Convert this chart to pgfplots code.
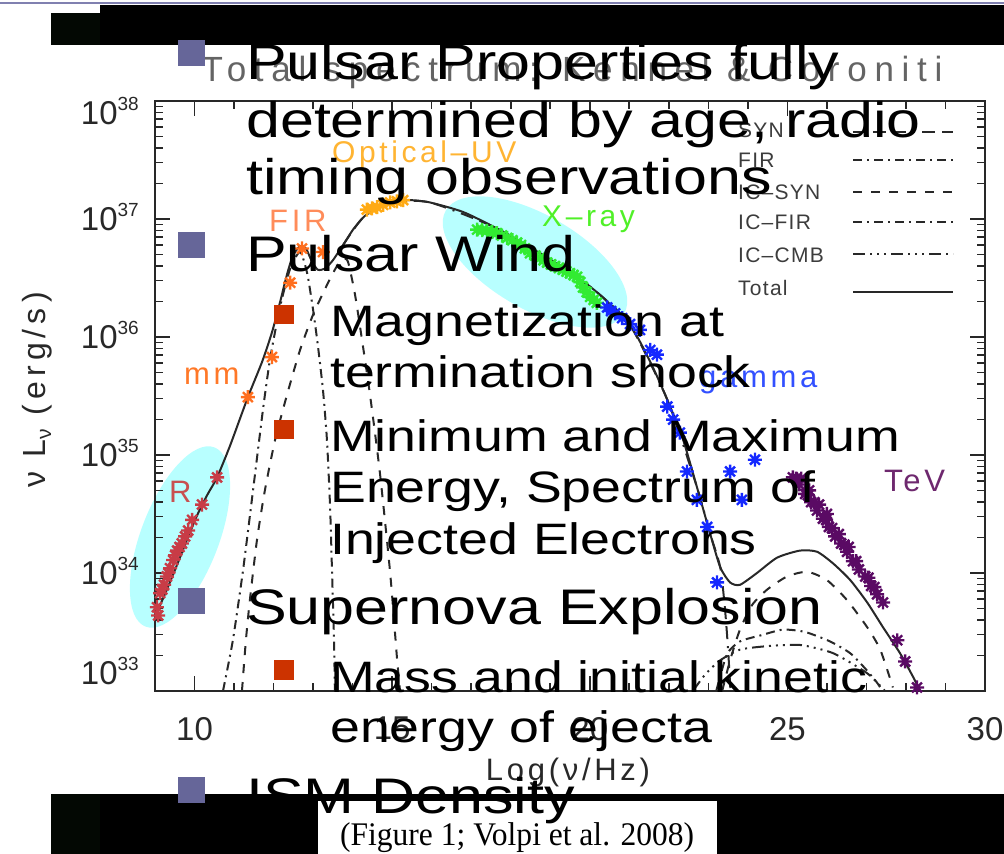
\documentclass[border=0pt]{standalone}
\usepackage{pgfplots}
\pgfplotsset{compat=1.18}
\usepackage{graphicx}
\usepackage{fontspec}
\setmainfont{Liberation Sans}
\newfontfamily\capfont{Liberation Serif}
\newfontfamily\idl[LetterSpace=12]{Liberation Sans}
\newfontfamily\idllab[LetterSpace=16]{Liberation Sans}
\newfontfamily\idlleg[LetterSpace=6]{Liberation Sans}
\newfontfamily\idlwide[LetterSpace=22]{Liberation Sans}
\definecolor{slate}{RGB}{102,102,153}
\definecolor{subbul}{RGB}{204,51,0}
\definecolor{topline}{RGB}{128,128,176}
\definecolor{darkbar}{RGB}{3,8,3}
\definecolor{ellcyan}{RGB}{184,255,255}
\definecolor{cR}{RGB}{200,60,70}
\definecolor{cmm}{RGB}{255,110,30}
\definecolor{copt}{RGB}{255,170,20}
\definecolor{cx}{RGB}{50,235,50}
\definecolor{cg}{RGB}{20,40,255}
\definecolor{ctev}{RGB}{90,10,100}
\definecolor{axgray}{RGB}{40,40,40}
\definecolor{legtxt}{RGB}{60,60,60}
\newcommand\ytl[1]{10\raisebox{14pt}{\fontsize{19}{19}\selectfont #1}}
\newcommand\mainline[2]{\node[anchor=base west,inner sep=0pt] at (246,#1) {\scalebox{1.22}[1]{\fontsize{50}{60}\selectfont #2}};}
\newcommand\subline[2]{\node[anchor=base west,inner sep=0pt] at (330,#1) {\scalebox{1.22}[1]{\fontsize{44}{52}\selectfont #2}};}
\pgfdeclareplotmark{ast8}{%
  \pgfpathmoveto{\pgfqpoint{-\pgfplotmarksize}{0pt}}\pgfpathlineto{\pgfqpoint{\pgfplotmarksize}{0pt}}%
  \pgfpathmoveto{\pgfqpoint{0pt}{-\pgfplotmarksize}}\pgfpathlineto{\pgfqpoint{0pt}{\pgfplotmarksize}}%
  \pgfpathmoveto{\pgfqpoint{-0.707\pgfplotmarksize}{-0.707\pgfplotmarksize}}\pgfpathlineto{\pgfqpoint{0.707\pgfplotmarksize}{0.707\pgfplotmarksize}}%
  \pgfpathmoveto{\pgfqpoint{-0.707\pgfplotmarksize}{0.707\pgfplotmarksize}}\pgfpathlineto{\pgfqpoint{0.707\pgfplotmarksize}{-0.707\pgfplotmarksize}}%
  \pgfusepathqstroke}
\pgfplotsset{pts/.style={only marks, mark=ast8, mark size=7pt, line width=2.4pt}}
\begin{document}
\begin{tikzpicture}[x=1pt,y=1pt]
\useasboundingbox (0,0) rectangle (1004,854);
% highlight ellipses
\fill[ellcyan, rotate around={69:(180,317)}] (180,317) ellipse [x radius=96, y radius=39];
\fill[ellcyan, rotate around={-30:(535,592)}] (535,592) ellipse [x radius=103, y radius=47];
\begin{axis}[
  at={(155pt,163pt)}, anchor=south west, scale only axis,
  width=830pt, height=590pt,
  xmin=9, xmax=30, ymin=33, ymax=38,
  xtick={10,15,20,25,30},
  xticklabels={10,15,20,25,30},
  minor x tick num=4,
  ytick={33,34,35,36,37,38},
  yticklabels={\raisebox{18pt}{\ytl{33}},\ytl{34},\ytl{35},\ytl{36},\ytl{37},\raisebox{-12pt}{\ytl{38}}},
  minor ytick={33.30103,33.47712,33.60206,33.69897,33.77815,33.84510,33.90309,33.95424,
               34.30103,34.47712,34.60206,34.69897,34.77815,34.84510,34.90309,34.95424,
               35.30103,35.47712,35.60206,35.69897,35.77815,35.84510,35.90309,35.95424,
               36.30103,36.47712,36.60206,36.69897,36.77815,36.84510,36.90309,36.95424,
               37.30103,37.47712,37.60206,37.69897,37.77815,37.84510,37.90309,37.95424},
  major tick length=15pt, minor tick length=8pt,
  tick style={axgray, line width=1.6pt},
  axis line style={axgray, line width=2pt},
  ticklabel style={font=\fontsize{33}{33}\selectfont, text=axgray, inner sep=0pt},
  xticklabel style={anchor=north, yshift=-26pt},
  yticklabel style={anchor=base east, xshift=-16pt, yshift=-12pt},
]
% --- model components ---
\addplot[axgray, line width=2pt, smooth, tension=0.4] coordinates {
 (9.00,33.63)(9.25,33.82)(9.51,34.03)(9.76,34.24)(10.04,34.47)(10.32,34.66)(10.57,34.81)
 (10.90,35.08)(11.35,35.49)(11.71,35.79)(11.96,36.04)(12.16,36.29)(12.34,36.53)(12.49,36.69)
 (12.67,36.77)(12.82,36.75)(12.97,36.64)(13.12,36.57)(13.30,36.58)(13.50,36.65)(13.76,36.78)
 (14.01,36.91)(14.26,37.01)(14.52,37.08)(14.95,37.14)(15.45,37.16)(15.96,37.14)(16.79,37.06)
 (17.65,36.92)(18.49,36.76)(19.32,36.59)(20.18,36.38)(21.02,36.10)(21.53,35.79)(21.96,35.47)
 (22.36,35.13)(22.71,34.73)(23.04,34.34)(23.30,34.05)(23.55,33.92)(23.80,33.90)(24.23,34.00)
 (24.74,34.13)(25.32,34.19)(25.75,34.18)(26.16,34.08)(26.59,33.94)(27.02,33.75)(27.42,33.54)
 (27.85,33.32)(28.18,33.12)(28.36,33.00)};
% SYN
\addplot[axgray, line width=2pt, smooth, tension=0.4, dash pattern=on 13pt off 7pt on 13pt off 7pt on 13pt off 7pt on 2pt off 7pt] coordinates {
 (13.76,36.78)(14.26,37.01)(14.95,37.14)(15.96,37.14)(17.65,36.92)(19.32,36.59)(20.18,36.38)
 (21.02,36.10)(21.96,35.47)(22.71,34.73)(23.04,34.34)(23.30,34.05)(23.42,33.70)(23.50,33.35)(23.56,33.00)};
% FIR dust
\addplot[axgray, line width=2pt, smooth, tension=0.4, dash pattern=on 9pt off 5pt on 2pt off 5pt] coordinates {
 (10.72,33.00)(10.97,33.43)(11.23,34.03)(11.48,34.70)(11.73,35.38)(11.91,35.81)(12.16,36.25)
 (12.42,36.58)(12.67,36.72)(12.85,36.54)(13.00,36.23)(13.12,35.93)(13.25,35.55)(13.35,35.13)
 (13.43,34.56)(13.48,34.00)(13.53,33.43)(13.55,33.00)};
% low-frequency dashed bump
\addplot[axgray, line width=2pt, smooth, tension=0.4, dash pattern=on 9pt off 9pt] coordinates {
 (11.20,33.00)(11.30,33.43)(11.40,33.77)(11.58,34.28)(11.78,34.70)(12.04,35.13)(12.34,35.51)
 (12.67,35.89)(13.00,36.19)(13.35,36.44)(13.55,36.57)(13.73,36.66)(13.88,36.64)(14.06,36.36)
 (14.24,35.97)(14.44,35.51)(14.69,34.85)(14.95,34.00)(15.12,33.29)(15.20,33.00)};
% IC-SYN
\addplot[axgray, line width=2pt, smooth, tension=0.4, dash pattern=on 9pt off 9pt] coordinates {
 (23.35,33.00)(23.55,33.26)(23.80,33.52)(24.11,33.73)(24.49,33.86)(24.99,33.97)(25.50,34.01)
 (26.00,33.94)(26.51,33.77)(27.02,33.54)(27.35,33.35)(27.67,33.03)};
% IC-FIR
\addplot[axgray, line width=2pt, smooth, tension=0.4, dash pattern=on 9pt off 5pt on 2pt off 5pt] coordinates {
 (23.20,33.00)(23.47,33.31)(23.80,33.42)(24.31,33.47)(24.89,33.52)(25.45,33.50)(26.08,33.42)
 (26.59,33.32)(26.97,33.19)(27.27,33.07)(27.40,33.00)};
% IC-CMB
\addplot[axgray, line width=2pt, smooth, tension=0.4, dash pattern=on 12pt off 5pt on 2pt off 5pt on 2pt off 5pt on 2pt off 5pt] coordinates {
 (22.61,33.00)(22.92,33.14)(23.30,33.26)(23.80,33.35)(24.49,33.38)(25.32,33.39)(26.16,33.32)
 (27.02,33.15)(27.47,33.00)};
% --- data ---
\addplot[pts, color=cR] coordinates {
 (9.05,33.71)(9.08,33.64)(9.13,33.83)(9.18,33.86)(9.23,33.90)(9.30,33.97)(9.34,34.00)(9.38,34.04)
 (9.46,34.11)(9.51,34.15)(9.56,34.19)(9.62,34.22)(9.68,34.25)(9.76,34.31)(9.84,34.36)(9.94,34.45)
 (10.19,34.58)(10.57,34.81)};
\addplot[pts, color=cmm] coordinates {
 (11.35,35.49)(11.96,35.83)(12.42,36.46)(12.72,36.75)(13.25,36.72)};
\addplot[pts, color=copt] coordinates {
 (14.36,37.08)(14.49,37.09)(14.62,37.10)(14.77,37.12)(14.95,37.14)(15.12,37.15)(15.28,37.16)};
\addplot[pts, color=cx] coordinates {
 (17.15,36.91)(17.28,36.905)(17.40,36.90)(17.53,36.89)(17.65,36.88)(17.78,36.86)(17.91,36.84)
 (18.04,36.82)(18.16,36.80)(18.26,36.78)(18.36,36.75)(18.49,36.71)(18.62,36.69)(18.74,36.67)
 (18.83,36.65)(18.92,36.63)(19.02,36.615)(19.12,36.60)(19.22,36.585)(19.32,36.57)(19.41,36.555)
 (19.50,36.54)(19.59,36.525)(19.68,36.51)(19.76,36.465)(19.83,36.42)(19.92,36.38)(20.01,36.34)
 (20.10,36.315)(20.18,36.29)};
\addplot[pts, color=cg] coordinates {
 (20.44,36.25)(20.54,36.22)(20.64,36.20)(20.82,36.16)(21.02,36.11)(21.27,36.06)(21.53,35.89)(21.70,35.85)
 (21.96,35.41)(22.11,35.30)(22.28,35.19)(22.46,34.86)(22.71,34.62)(22.97,34.39)(23.22,33.92)
 (23.55,34.86)(23.85,34.62)(24.18,34.96)};
\addplot[pts, color=ctev] coordinates {
 (25.14,34.81)(25.22,34.80)(25.30,34.75)(25.45,34.67)(25.52,34.66)(25.60,34.60)(25.68,34.60)
 (25.75,34.53)(25.90,34.46)(25.98,34.45)(26.05,34.39)(26.13,34.38)(26.21,34.31)(26.36,34.25)
 (26.44,34.24)(26.51,34.18)(26.66,34.10)(26.74,34.10)(26.81,34.03)(26.97,33.97)(27.05,33.96)
 (27.12,33.89)(27.20,33.88)(27.27,33.82)(27.42,33.75)(27.78,33.43)(27.98,33.25)(28.28,33.03)
 (25.35,34.80)(25.55,34.70)(25.80,34.58)(26.00,34.50)(26.30,34.33)(26.55,34.22)};
\end{axis}
% spectrum labels
\node[anchor=base west,inner sep=0pt,text={rgb,255:red,200;green,80;blue,80}] at (169,351) {\idl\fontsize{31}{31}\selectfont R};
\node[anchor=base west,inner sep=0pt,text={rgb,255:red,255;green,120;blue,40}] at (184,469) {\idl\fontsize{31}{31}\selectfont mm};
\node[anchor=base west,inner sep=0pt,text={rgb,255:red,255;green,140;blue,90}] at (269,622) {\idl\fontsize{31}{31}\selectfont FIR};
\node[anchor=base west,inner sep=0pt,text={rgb,255:red,255;green,180;blue,50}] at (332,691) {\idl\fontsize{30}{30}\selectfont Optical–UV};
\node[anchor=base west,inner sep=0pt,text={rgb,255:red,80;green,240;blue,40}] at (542,627) {\idl\fontsize{30}{30}\selectfont X–ray};
\node[anchor=base west,inner sep=0pt,text={rgb,255:red,50;green,80;blue,255}] at (699,466) {\idl\fontsize{31}{31}\selectfont gamma};
\node[anchor=base west,inner sep=0pt,text={rgb,255:red,110;green,40;blue,110}] at (884,362) {\idl\fontsize{31}{31}\selectfont TeV};
% legend
\begin{scope}[every node/.style={anchor=base west,inner sep=0pt,text=legtxt,font=\idlleg\fontsize{21}{21}\selectfont}]
\node at (738,716.5) {SYN};
\node at (738,686.5) {FIR};
\node at (738,654.5) {IC–SYN};
\node at (738,624.5) {IC–FIR};
\node at (738,591.5) {IC–CMB};
\node at (738,558.5) {Total};
\end{scope}
\begin{scope}[axgray, line width=2pt]
\draw[dash pattern=on 13pt off 7pt on 13pt off 7pt on 13pt off 7pt on 2pt off 7pt] (853,722) -- (953,722);
\draw[dash pattern=on 9pt off 5pt on 2pt off 5pt] (853,694) -- (953,694);
\draw[dash pattern=on 9pt off 9pt] (853,662) -- (953,662);
\draw[dash pattern=on 9pt off 5pt on 2pt off 5pt] (853,632) -- (953,632);
\draw[dash pattern=on 12pt off 5pt on 2pt off 5pt on 2pt off 5pt on 2pt off 5pt] (853,600) -- (953,600);
\draw (853,562) -- (953,562);
\end{scope}
% title and axis labels
\node[anchor=base,inner sep=0pt,text={rgb,255:red,100;green,100;blue,100}] at (572,772) {\idlwide\fontsize{35}{35}\selectfont Total spectrum: Kennel \& Coroniti};
\node[anchor=base,inner sep=0pt,text=axgray] at (568,73) {\idl\fontsize{31}{31}\selectfont Log(ν/Hz)};
\node[anchor=base,inner sep=0pt,text=axgray,rotate=90] at (45,464) {\idllab\fontsize{32}{32}\selectfont ν L\raisebox{-6pt}{\fontsize{21}{21}\selectfont ν} (erg/s)};
% slide frame
\fill[topline] (0,850) rectangle (1004,852);
\fill[black] (100,809) rectangle (1004,849);
\fill[darkbar] (51,809) rectangle (100,841);
\fill[black] (100,0) rectangle (1004,60);
\fill[darkbar] (51,0) rectangle (100,60);
\fill[white] (318,0) rectangle (717,53);
\node[anchor=base west,inner sep=0pt] at (340,8) {\scalebox{0.955}[1]{\capfont\fontsize{33}{33}\selectfont (Figure 1; Volpi et al. 2008)}};
% bullets
\fill[slate] (178,788) rectangle (205,814);
\fill[slate] (178,596) rectangle (205,622);
\fill[slate] (178,240) rectangle (205,266);
\fill[slate] (178,51) rectangle (205,77);
\fill[subbul] (274,530) rectangle (294,549);
\fill[subbul] (274,415) rectangle (294,434);
\fill[subbul] (274,174) rectangle (294,194);
\mainline{774}{Pulsar Properties fully}
\mainline{716}{determined by age, radio}
\mainline{659}{timing observations}
\mainline{582}{Pulsar Wind}
\subline{517}{Magnetization at}
\subline{466}{termination shock}
\subline{402}{Minimum and Maximum}
\subline{351}{Energy, Spectrum of}
\subline{299}{Injected Electrons}
\mainline{229}{Supernova Explosion}
\subline{161}{Mass and initial kinetic}
\subline{111}{energy of ejecta}
\mainline{40}{ISM Density}
\end{tikzpicture}
\end{document}
